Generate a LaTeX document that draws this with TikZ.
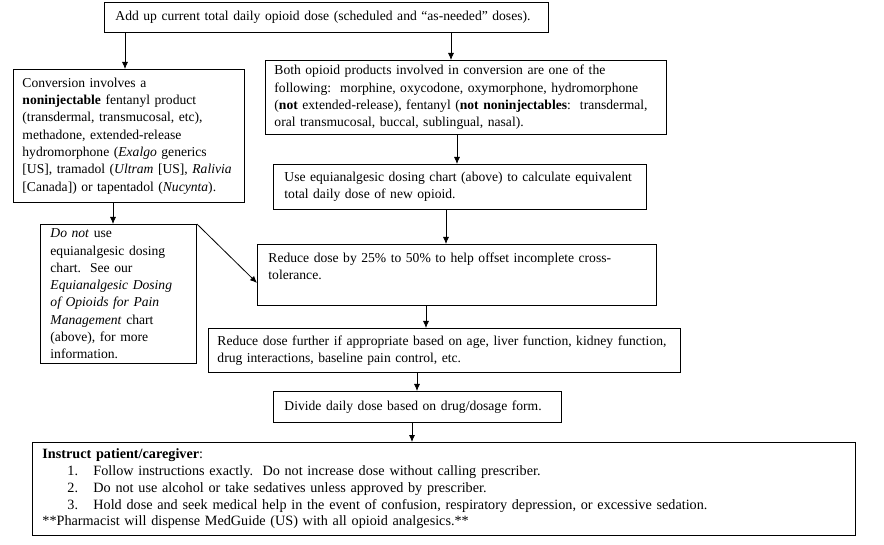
\documentclass[tikz,border=0pt]{standalone}
\usepackage{fontspec}
\setmainfont{Liberation Serif}
\usetikzlibrary{arrows.meta}
\newcommand{\bodyfs}{\fontsize{13.6pt}{17.3pt}\selectfont}
\newcommand{\instrfs}{\fontsize{14.2pt}{16.8pt}\selectfont}
\newcommand{\oneline}[1]{\mbox{#1}}
\newcommand{\itm}[2]{\hspace*{25pt}\makebox[26pt][l]{#1}#2}
\begin{document}
\begin{tikzpicture}[x=1pt,y=-1pt,
  box/.style={draw, line width=0.9pt, anchor=north west, align=left,
    inner ysep=0pt, font=\bodyfs},
  arr/.style={line width=0.8pt, -{Latex[length=7pt,width=6pt]}}]
\useasboundingbox (0,0) rectangle (884,545);
\fill[white] (0,0) rectangle (884,545);

\node[box, inner xsep=11pt, text width=422pt, minimum height=30pt] (A) at (104,2)
  {\oneline{Add up current total daily opioid dose (scheduled and “as-needed” doses).}};

\node[box, inner xsep=9pt, text width=213pt, minimum height=133pt] (B) at (13,69)
  {\oneline{Conversion involves a}\\
   \oneline{\textbf{noninjectable} fentanyl product}\\
   \oneline{(transdermal, transmucosal, etc),}\\
   \oneline{methadone, extended-release}\\
   \oneline{hydromorphone (\textit{Exalgo} generics}\\
   \oneline{[US], tramadol (\textit{Ultram} [US], \textit{Ralivia}}\\
   \oneline{[Canada]) or tapentadol (\textit{Nucynta}).}};

\node[box, inner xsep=9pt, text width=383pt, minimum height=74pt] (C) at (265,60)
  {\oneline{Both opioid products involved in conversion are one of the}\\
   \oneline{following:\ \ morphine, oxycodone, oxymorphone, hydromorphone}\\
   \oneline{(\textbf{not} extended-release), fentanyl (\textbf{not noninjectables}:\ \ transdermal,}\\
   \oneline{oral transmucosal, buccal, sublingual, nasal).}};

\node[box, inner xsep=11pt, text width=351pt, minimum height=45pt] (D) at (273,164)
  {\oneline{Use equianalgesic dosing chart (above) to calculate equivalent}\\
   \oneline{total daily dose of new opioid.}};

\node[box, inner xsep=10pt, text width=136pt, minimum height=139pt] (E) at (40,224)
  {\oneline{\textit{Do not} use}\\
   \oneline{equianalgesic dosing}\\
   \oneline{chart.\ \ See our}\\
   \oneline{\textit{Equianalgesic Dosing}}\\
   \oneline{\textit{of Opioids for Pain}}\\
   \oneline{\textit{Management} chart}\\
   \oneline{(above), for more}\\
   \oneline{information.}};

\node[box, inner xsep=11pt, text width=377pt, minimum height=61pt] (F) at (257,244)
  {\oneline{Reduce dose by 25\% to 50\% to help offset incomplete cross-}\\
   \oneline{tolerance.}\\
   \oneline{~}};

\node[box, inner xsep=9pt, text width=454pt, minimum height=44pt] (G) at (208,328)
  {\oneline{Reduce dose further if appropriate based on age, liver function, kidney function,}\\
   \oneline{drug interactions, baseline pain control, etc.}};

\node[box, inner xsep=11pt, text width=266pt, minimum height=31pt] (H) at (273,391)
  {\oneline{Divide daily dose based on drug/dosage form.}};

\node[box, inner xsep=10pt, text width=803pt, minimum height=93pt, font=\instrfs] (I) at (32,442)
  {\oneline{\textbf{Instruct patient/caregiver}:}\\
   \oneline{\itm{1.}{Follow instructions exactly.\ \ Do not increase dose without calling prescriber.}}\\
   \oneline{\itm{2.}{Do not use alcohol or take sedatives unless approved by prescriber.}}\\
   \oneline{\itm{3.}{Hold dose and seek medical help in the event of confusion, respiratory depression, or excessive sedation.}}\\
   \oneline{**Pharmacist will dispense MedGuide (US) with all opioid analgesics.**}};

\draw[arr] ([xshift=21pt]A.south west) coordinate (a1) -- (a1 |- B.north);
\draw[arr] ([xshift=347pt]A.south west) coordinate (a2) -- (a2 |- C.north);
\draw[arr] ([xshift=192pt]C.south west) coordinate (c1) -- (c1 |- D.north);
\draw[arr] ([xshift=100pt]B.south west) coordinate (b1) -- (b1 |- E.north);
\draw[arr] ([xshift=173pt]D.south west) coordinate (d1) -- (d1 |- F.north);
\draw[arr] (E.north east) -- ([yshift=-8pt]F.west);
\draw[arr] ([xshift=169pt]F.south west) coordinate (f1) -- (f1 |- G.north);
\draw[arr] ([xshift=209pt]G.south west) coordinate (g1) -- (g1 |- H.north);
\draw[arr] ([xshift=139pt]H.south west) coordinate (h1) -- (h1 |- I.north);
\end{tikzpicture}
\end{document}
